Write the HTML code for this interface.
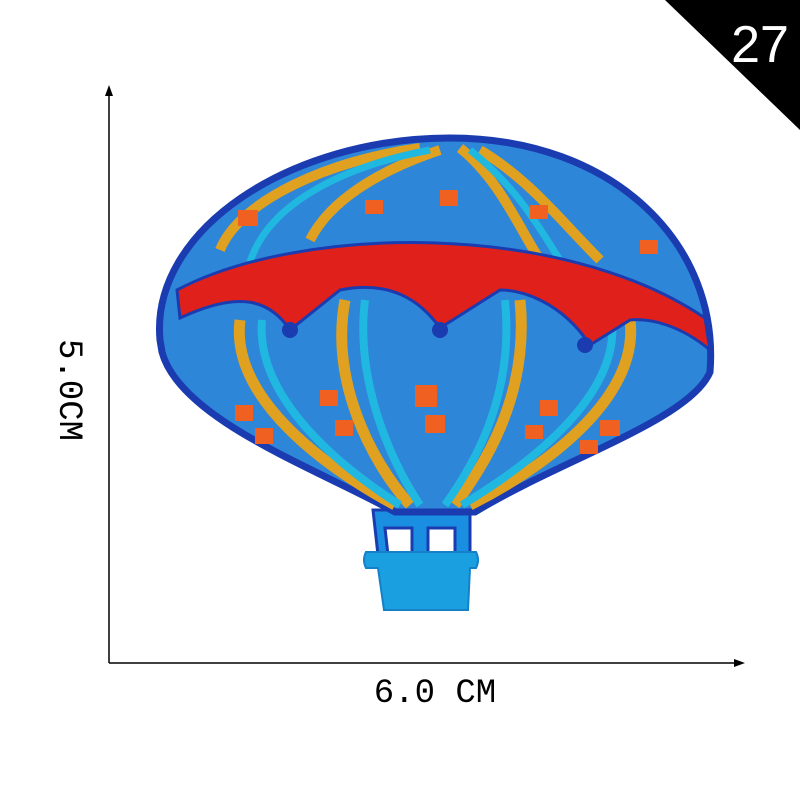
<!DOCTYPE html>
<html><head><meta charset="utf-8"><style>
html,body{margin:0;padding:0;background:#fff;}
svg{display:block}
</style></head><body>
<svg width="800" height="800" viewBox="0 0 800 800">
<rect width="800" height="800" fill="#fff"/>
<polygon points="665,0 800,0 800,130" fill="#000"/>
<text x="760" y="62" font-family="Liberation Sans, sans-serif" font-size="52" fill="#fff" text-anchor="middle">27</text>
<g stroke="#000" stroke-width="1.5">
<line x1="109" y1="92" x2="109" y2="663"/>
<line x1="109" y1="663" x2="738" y2="663"/>
</g>
<polygon points="109,85 105,96 113,96" fill="#000"/>
<polygon points="745,663 734,659 734,667" fill="#000"/>
<text x="435" y="702" font-family="Liberation Mono, monospace" font-size="34" text-anchor="middle" fill="#000">6.0 CM</text>
<text x="0" y="0" transform="translate(60,390) rotate(90)" font-family="Liberation Mono, monospace" font-size="34" text-anchor="middle" fill="#000">5.0CM</text>
<g>
<path d="M373,510 L470,510 L470,555 L455,555 L455,528 L428,528 L428,555 L412,555 L412,528 L385,528 L388,555 L378,555 Z" fill="#1a8ee0" stroke="#1a3cb0" stroke-width="3"/>
<path d="M160,340 C150,230 290,138 450,138 C615,138 720,245 710,372 C690,420 560,460 475,512 L395,512 C320,470 180,420 162,352 Z" fill="#2d86d8" stroke="#1a3cb0" stroke-width="7"/>
<path d="M366,552 L476,552 Q480,560 476,568 L470,568 L468,610 L384,610 L378,568 L366,568 Q362,560 366,552 Z" fill="#1aa0e0" stroke="#1580c8" stroke-width="2"/>
<path d="M220,250 C240,200 330,160 420,148 M310,240 C330,200 380,170 440,150 M460,148 C500,180 520,230 540,260 M480,150 C530,180 560,220 600,260" stroke="#e0a020" stroke-width="10" fill="none"/>
<path d="M250,262 C270,200 350,165 430,150 M470,150 C520,190 540,230 560,260" stroke="#20b8e0" stroke-width="7" fill="none"/>
<path d="M240,320 C230,400 330,470 395,505 M345,300 C330,380 370,460 410,505 M520,300 C530,400 480,470 455,505 M630,320 C640,400 540,470 470,505" stroke="#e0a020" stroke-width="11" fill="none"/>
<path d="M262,320 C255,400 345,470 400,505 M365,300 C355,380 390,460 420,505 M505,300 C515,400 470,470 445,505 M612,320 C620,400 520,470 462,505" stroke="#20b8e0" stroke-width="8" fill="none"/>
<path d="M177,290 C300,225 560,220 705,318 L710,350 C680,325 650,318 630,320 L590,345 C560,300 520,290 500,290 L440,328 C420,300 390,280 340,290 L290,330 C270,300 240,290 180,318 Z" fill="#e0201a" stroke="#1a3cb0" stroke-width="3"/>
<circle cx="290" cy="330" r="8" fill="#1a3cb0"/><circle cx="440" cy="330" r="8" fill="#1a3cb0"/><circle cx="585" cy="345" r="8" fill="#1a3cb0"/>
<g fill="#f06020">
<rect x="238" y="210" width="20" height="16"/><rect x="365" y="200" width="18" height="14"/><rect x="440" y="190" width="18" height="16"/><rect x="530" y="205" width="18" height="14"/><rect x="640" y="240" width="18" height="14"/>
<rect x="415" y="385" width="22" height="22"/><rect x="425" y="415" width="20" height="18"/><rect x="320" y="390" width="18" height="16"/><rect x="335" y="420" width="18" height="16"/>
<rect x="235" y="405" width="18" height="16"/><rect x="255" y="428" width="18" height="16"/><rect x="540" y="400" width="18" height="16"/><rect x="525" y="425" width="18" height="14"/>
<rect x="600" y="420" width="20" height="16"/><rect x="580" y="440" width="18" height="14"/>
</g>
</g>
</svg>
</body></html>
